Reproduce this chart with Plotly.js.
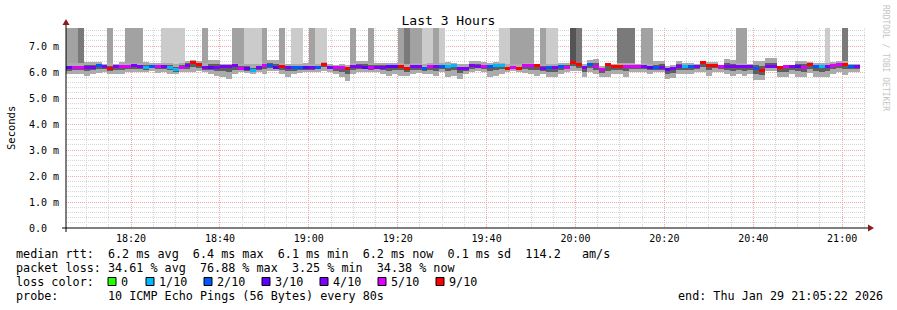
<!DOCTYPE html>
<html><head><meta charset="utf-8">
<script src="https://cdn.plot.ly/plotly-3.0.1.min.js"></script>
<style>html,body{margin:0;padding:0;background:#fff}#chart{width:897px;height:310px}</style>
</head><body><div id="chart"></div>
<script>
// ---- data ----
const startTime = '2026-01-29 18:05:22';
const endTime = '2026-01-29 21:05:22';
const stepSeconds = 80;

const medianMs = [
 6.17,6.18,6.18,6.17,6.19,6.25,6.22,6.14,6.20,6.21,
 6.21,6.25,6.20,6.18,6.21,6.21,6.20,6.19,6.10,6.19,
 6.24,6.37,6.28,6.18,6.18,6.18,6.22,6.22,6.24,6.15,
 6.14,6.06,6.18,6.25,6.26,6.18,6.22,6.19,6.16,6.18,
 6.18,6.17,6.19,6.30,6.19,6.17,6.17,6.12,6.21,6.22,
 6.19,6.18,6.19,6.19,6.20,6.22,6.22,6.13,6.21,6.21,
 6.12,6.23,6.20,6.22,6.21,6.24,6.13,6.13,6.25,6.23,
 6.22,6.21,6.26,6.26,6.13,6.19,6.12,6.25,6.24,6.25,
 6.14,6.19,6.18,6.23,6.19,6.37,6.27,6.17,6.28,6.20,
 6.08,6.27,6.20,6.22,6.21,6.21,6.21,6.20,6.18,6.16,
 6.18,6.08,6.13,6.23,6.22,6.20,6.20,6.35,6.24,6.26,
 6.21,6.22,6.21,6.21,6.21,6.20,6.13,6.04,6.21,6.21,
 6.17,6.20,6.20,6.22,6.18,6.27,6.22,6.20,6.21,6.25,
 6.27,6.30,6.21,6.21];

const lostPings = [
 3,5,5,4,4,2,4,9,4,5,
 5,4,4,1,2,5,4,1,1,5,
 4,9,9,4,3,4,4,4,4,5,
 3,1,4,5,2,3,9,4,2,2,
 3,4,2,9,4,5,5,9,4,4,
 3,5,4,4,3,3,9,9,4,4,
 2,5,4,2,1,1,4,4,4,4,
 5,2,1,1,9,5,9,5,5,9,
 4,2,4,2,5,9,9,4,2,5,
 5,9,9,9,5,5,5,4,3,2,
 4,3,4,4,1,2,4,9,9,9,
 5,4,4,4,4,4,2,9,4,4,
 9,5,4,3,5,9,2,1,4,5,
 5,9,2,4];

const smokeHighMs = [
 6.33,6.33,6.33,6.37,6.37,6.37,6.31,6.33,6.31,6.37,
 6.33,6.35,6.33,6.37,6.33,6.33,6.33,6.33,6.30,6.33,
 6.44,6.46,6.44,6.33,6.46,6.46,6.31,6.31,6.33,6.31,
 6.31,6.30,6.31,6.35,6.46,6.46,6.33,6.31,6.31,6.31,
 6.33,6.31,6.31,6.37,6.31,6.28,6.31,6.28,6.33,6.41,
 6.41,6.35,6.33,6.33,6.33,6.33,6.33,6.31,6.33,6.33,
 6.31,6.33,6.31,6.33,6.37,6.33,6.31,6.31,6.41,6.41,
 6.37,6.33,6.37,6.35,6.31,6.31,6.31,6.33,6.33,6.31,
 6.30,6.31,6.31,6.33,6.33,6.44,6.33,6.31,6.46,6.50,
 6.24,6.31,6.31,6.33,6.33,6.33,6.31,6.33,6.31,6.44,
 6.44,6.24,6.28,6.44,6.33,6.33,6.31,6.41,6.37,6.37,
 6.28,6.50,6.46,6.33,6.33,6.31,6.44,6.44,6.53,6.53,
 6.24,6.28,6.28,6.44,6.44,6.37,6.33,6.33,6.33,6.37,
 6.41,6.41,6.31,6.31];

const smokeLowMs = [
 5.92,5.92,5.92,5.86,5.92,5.95,5.99,5.92,5.92,5.92,
 5.99,5.99,5.99,5.99,6.05,5.97,5.99,5.92,5.92,5.99,
 5.99,5.99,6.02,5.99,5.92,5.86,5.79,5.75,5.92,5.99,
 5.95,5.92,5.99,5.92,6.05,6.05,5.92,5.82,5.92,5.95,
 5.99,5.99,5.99,6.05,5.99,5.92,5.79,5.67,5.92,5.99,
 5.99,5.99,5.99,5.92,5.86,5.92,5.86,5.86,5.92,5.95,
 5.92,5.92,5.86,5.99,5.79,5.86,5.73,5.92,5.99,6.05,
 5.99,5.79,5.86,5.92,5.99,6.05,5.99,5.95,5.92,5.86,
 5.92,5.79,5.79,5.92,5.99,6.05,6.05,5.79,5.99,5.92,
 5.79,5.79,5.92,5.92,5.79,5.99,5.99,5.99,5.92,5.99,
 5.99,5.73,5.77,5.92,5.92,5.92,5.99,5.99,5.86,5.99,
 5.99,5.92,5.86,5.92,5.86,5.92,5.69,5.69,6.05,6.05,
 5.79,5.79,5.92,5.79,5.79,5.95,5.79,5.79,5.82,5.92,
 5.99,5.90,5.99,5.99];

// smoke that runs off the top of the graph (0 = none, 1..4 = light..dark)
const offScaleSmoke = [
 2,2,3,0,0,0,0,2,0,0,
 2,2,2,0,0,0,1,1,1,1,
 0,0,0,2,0,0,0,0,2,2,
 1,1,1,2,0,0,2,0,1,1,
 0,2,1,1,0,0,0,0,2,0,
 0,2,0,0,0,0,2,3,2,2,
 1,1,2,1,0,0,0,0,0,0,
 0,0,0,1,1,2,2,2,2,0,
 2,1,1,0,0,4,3,0,0,0,
 0,0,0,3,3,3,0,2,2,0,
 0,0,0,0,0,0,0,0,0,0,
 0,0,0,2,2,0,0,0,0,0,
 0,0,0,0,0,0,0,0,1,0,
 0,3,0,0];

const yTickValues = [0,1,2,3,4,5,6,7];
const yTickLabels = ['0.0\u00A0\u00A0','1.0 m','2.0 m','3.0 m','4.0 m','5.0 m','6.0 m','7.0 m'];
const lossLegendLabels = ['0','1/10','2/10','3/10','4/10','5/10','9/10'];
const lossLegendColors = ['#26ff00','#00b8ff','#0059ff','#5e00ff','#7e00ff','#dd00ff','#ff0000'];
const statsLine = 'median rtt:  6.2 ms avg  6.4 ms max  6.1 ms min  6.2 ms now  0.1 ms sd  114.2   am/s';
const lossLine = 'packet loss: 34.61 % avg  76.88 % max  3.25 % min  34.38 % now';
const probeLine = 'probe:       10 ICMP Echo Pings (56 Bytes) every 80s';
const endLine = 'end: Thu Jan 29 21:05:22 2026';

// ---- drawing ----
const Y_TOP = 7.6923;
const MONO = 'DejaVu Sans Mono';
const shadeColors = [null,'#cbcbcb','#a2a2a2','#7a7a7a','#545454'];
function lossColor(n){
  if(n<=0) return lossLegendColors[0];
  if(n===1) return lossLegendColors[1];
  if(n===2) return lossLegendColors[2];
  if(n===3) return lossLegendColors[3];
  if(n===4) return lossLegendColors[4];
  if(n<9) return lossLegendColors[5];
  return lossLegendColors[6];
}
function fmt(ms){
  const d=new Date(ms);
  const p=v=>String(v).padStart(2,'0');
  return d.getUTCFullYear()+'-'+p(d.getUTCMonth()+1)+'-'+p(d.getUTCDate())+' '+p(d.getUTCHours())+':'+p(d.getUTCMinutes())+':'+p(d.getUTCSeconds());
}
const t0 = Date.UTC(2026,0,29,18,5,22);
const stepMs = stepSeconds*1000;
const times = medianMs.map((_,i)=>fmt(t0+(i+0.5)*stepMs));

function barTrace(base, height, colors){
  return {type:'bar', x:times, base:base, y:height, width:stepMs,
    marker:{color:colors, line:{width:0}}, hoverinfo:'skip', showlegend:false};
}
const tallBase=[], tallH=[], tallC=[];
offScaleSmoke.forEach((s,i)=>{
  tallBase.push(smokeHighMs[i]);
  tallH.push(s? Y_TOP-smokeHighMs[i] : 0);
  tallC.push(s? shadeColors[s] : 'rgba(0,0,0,0)');
});
const outerBase = smokeLowMs.slice();
const outerH = smokeLowMs.map((lo,i)=>smokeHighMs[i]-lo);
const innerBase = medianMs.map((m,i)=>m-(m-smokeLowMs[i])*0.45);
const innerH = medianMs.map((m,i)=>(m+(smokeHighMs[i]-m)*0.45)-innerBase[i]);
const medBase = medianMs.map(m=>m-0.058);
const medH = medianMs.map(()=>0.116);

const traces = [
  barTrace(tallBase, tallH, tallC),
  barTrace(outerBase, outerH, '#ababab'),
  barTrace(innerBase, innerH, '#5e5e5e'),
  barTrace(medBase, medH, lostPings.map(lossColor))
];

// pixel helpers for layout decorations (plot: x 66..866, y 28..228)
const px = x=>(x-66)/800, py = y=>(228-y)/200;
const nb = s=>s.replace(/ /g,'\u00A0');
function note(text,x,y,opts){
  return Object.assign({text:nb(text), xref:'paper', yref:'paper', x:px(x), y:py(y),
    xanchor:'left', yanchor:'middle', showarrow:false, borderpad:0, borderwidth:0,
    font:{family:MONO, size:11.75, color:'#000'}}, opts||{});
}
const annotations = [
  note(statsLine,16,254), note(lossLine,16,268), note('loss color:',16,282),
  note(probeLine,16,296), note(endLine,678,296),
  {text:'Seconds', xref:'paper', yref:'paper', x:px(11), y:py(128), textangle:-90,
   showarrow:false, xanchor:'center', yanchor:'middle', borderpad:0, borderwidth:0,
   font:{family:MONO, size:10.5, color:'#000'}},
  {text:'RRDTOOL / TOBI OETIKER', xref:'paper', yref:'paper', x:px(886), y:py(58), textangle:90,
   showarrow:false, xanchor:'center', yanchor:'middle', borderpad:0, borderwidth:0,
   font:{family:MONO, size:8, color:'#c4c4c4'}}
];
const shapes = [];
lossLegendLabels.forEach((lab,k)=>{
  const sx = k===0 ? 108 : 146 + 58*(k-1);
  shapes.push({type:'rect', xref:'paper', yref:'paper', x0:px(sx), x1:px(sx+8), y0:py(285.5), y1:py(277.5),
    fillcolor:lossLegendColors[k], line:{color:'#000', width:1}});
  annotations.push(note(lab, sx+13, 282));
});
shapes.push({type:'line', xref:'paper', yref:'paper', x0:px(62), x1:px(869), y0:0, y1:0, line:{color:'#000', width:1}});
shapes.push({type:'line', xref:'paper', yref:'paper', x0:0, x1:0, y0:py(232), y1:py(24), line:{color:'#000', width:1}});
shapes.push({type:'path', xref:'paper', yref:'paper',
  path:`M ${px(66)} ${py(19)} L ${px(62.5)} ${py(25)} L ${px(69.5)} ${py(25)} Z`, fillcolor:'#8b1a1a', line:{width:0}});
shapes.push({type:'path', xref:'paper', yref:'paper',
  path:`M ${px(874)} ${py(228)} L ${px(868)} ${py(224.5)} L ${px(868)} ${py(231.5)} Z`, fillcolor:'#8b1a1a', line:{width:0}});

const gridDash = '1px,1px';
const layout = {
  width:897, height:310, margin:{l:66, r:31, t:28, b:82, pad:0},
  paper_bgcolor:'#ffffff', plot_bgcolor:'#ffffff', showlegend:false,
  barmode:'overlay', bargap:0,
  title:{text:'Last 3 Hours', font:{family:MONO, size:13, color:'#000'},
    x:0.5, xref:'container', xanchor:'center', y:1-20/310, yref:'container', yanchor:'middle'},
  xaxis:{type:'date', range:[startTime,endTime], tick0:'2026-01-29 18:00:00', dtick:1200000,
    tickformat:'%H:%M', showgrid:true, gridcolor:'#f2a8a8', griddash:gridDash, gridwidth:1,
    zeroline:false, showline:false, ticks:'outside', ticklen:1, tickcolor:'rgba(0,0,0,0)',
    tickfont:{family:MONO, size:10, color:'#000'}, fixedrange:true,
    minor:{tick0:'2026-01-29 18:00:00', dtick:300000, showgrid:true, gridcolor:'#d6d6d6', griddash:gridDash, gridwidth:1}},
  yaxis:{range:[0,Y_TOP], tickmode:'array', tickvals:yTickValues, ticktext:yTickLabels,
    showgrid:true, gridcolor:'#f2a8a8', griddash:gridDash, gridwidth:1,
    zeroline:false, showline:false, ticks:'outside', ticklen:4, tickcolor:'rgba(0,0,0,0)',
    tickfont:{family:MONO, size:10, color:'#000'}, fixedrange:true,
    minor:{dtick:0.2, tick0:0, showgrid:true, gridcolor:'#d6d6d6', griddash:gridDash, gridwidth:1}},
  annotations:annotations, shapes:shapes
};
Plotly.newPlot('chart', traces, layout, {displayModeBar:false, staticPlot:true});
</script></body></html>
